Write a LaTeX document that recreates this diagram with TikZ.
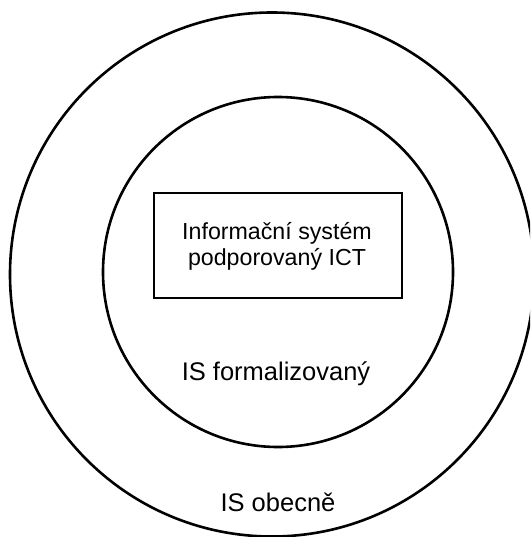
\documentclass[tikz,border=0pt]{standalone}
\usepackage{fontspec}
\setmainfont{Liberation Sans}
\begin{document}
\begin{tikzpicture}[x=1pt,y=-1pt,
  ring/.style={draw=black,line width=2.6pt,circle,inner sep=0pt},
  lbl/.style={font=\fontsize{25.5}{30}\selectfont,anchor=base,inner sep=0pt},
  boxtxt/.style={font=\fontsize{23.2}{27}\selectfont,anchor=base,inner sep=0pt},
  ictbox/.style={draw=black,line width=2.2pt,rectangle,inner sep=0pt}]
\useasboundingbox (0,0) rectangle (530,537);
\clip (0,0) rectangle (530,537);
\node[ring,minimum size=524pt] (outer) at (272,274.5) {};
\node[ring,minimum size=350pt] (inner) at (278,272) {};
\node[ictbox,minimum width=248pt,minimum height=105pt] (ict) at (278,245.5) {};
\node[boxtxt] (t1) at (277,239) {Informační systém};
\node[boxtxt] (t2) at (277,265) {podporovaný ICT};
\node[lbl] (lf) at (276,380) {IS formalizovaný};
\node[lbl] (lo) at (278,511) {IS obecně};
\end{tikzpicture}
\end{document}
